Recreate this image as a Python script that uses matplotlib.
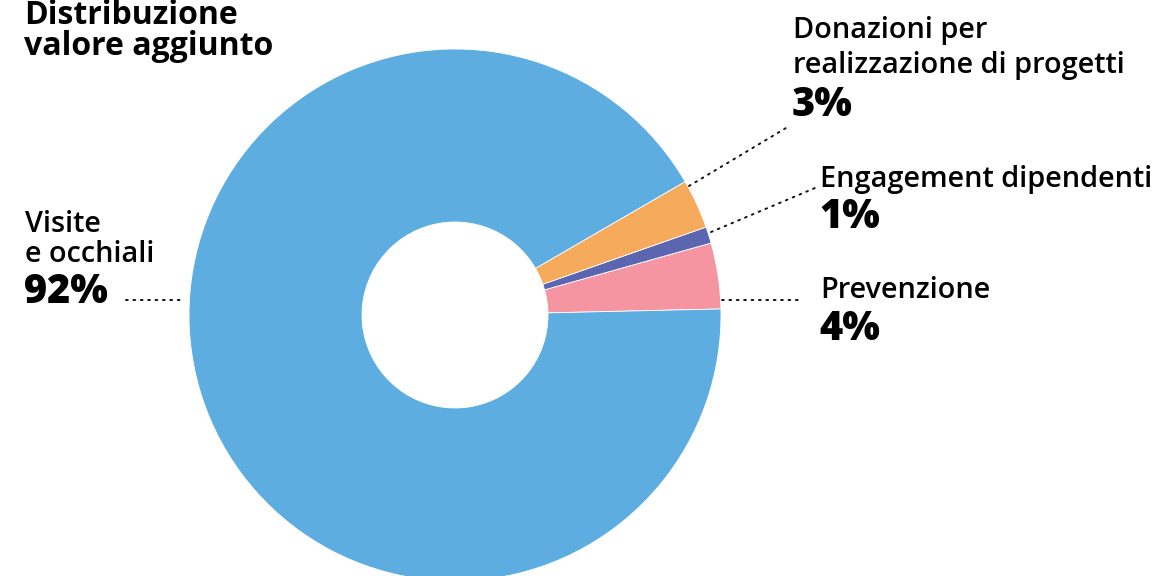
import matplotlib
matplotlib.use('Agg')
import matplotlib.pyplot as plt

# Data
labels = ['Prevenzione', 'Engagement dipendenti', 'Donazioni per\nrealizzazione di progetti', 'Visite\ne occhiali']
values = [4, 1, 3, 92]
colors = ['#F595A2', '#5B66B0', '#F5AA5C', '#5DADE0']
title = 'Distribuzione\nvalore aggiunto'

W, H = 1163, 576
plt.rcParams['font.family'] = ['Open Sans', 'DejaVu Sans']

fig = plt.figure(figsize=(W / 100, H / 100), dpi=100)
ax = fig.add_axes([0, 0, 1, 1])

def py(y):
    # pixel y (top-down) -> data y
    return H - y

cx, cy, r_out, r_in = 455, py(315), 266, 93
ax.pie(values, colors=colors, startangle=1.3, counterclock=True,
       radius=r_out, center=(cx, cy), frame=True,
       wedgeprops=dict(width=r_out - r_in, edgecolor='white', linewidth=0.6))
ax.set_xlim(0, W)
ax.set_ylim(0, H)
ax.set_aspect('equal')
ax.axis('off')

# title, one text per line placed on its baseline
for i, line in enumerate(title.split('\n')):
    ax.text(24, py(24 + 31 * i), line, fontsize=23, fontweight='bold',
            va='baseline', ha='left')

# label blocks: (x, first baseline, line gap, percent baseline, label, value)
blocks = [
    (820, 298, 35, 340, labels[0], values[0]),
    (820, 187, 35, 228, labels[1], values[1]),
    (793, 38, 35, 116, labels[2], values[2]),
    (25, 232, 30, 303, labels[3], values[3]),
]
for x, yb, gap, yp, lab, v in blocks:
    for i, line in enumerate(lab.split('\n')):
        ax.text(x, py(yb + gap * i), line, fontsize=20.8, fontweight='semibold',
                va='baseline', ha='left')
    ax.text(x - 1, py(yp), f'{v}%', fontsize=28.5, fontweight='heavy',
            va='baseline', ha='left')

# dotted leader lines
leaders = [
    ((722, 300), (800, 300)),
    ((711, 232), (815, 188)),
    ((689, 186), (786, 128)),
    ((126, 300), (184, 300)),
]
for (x0, y0), (x1, y1) in leaders:
    ax.plot([x0, x1], [py(y0), py(y1)], color='#111111', lw=1.4,
            linestyle=(0, (0.9, 2.9)), dash_capstyle='round')

fig.savefig('out.png', dpi=100)
